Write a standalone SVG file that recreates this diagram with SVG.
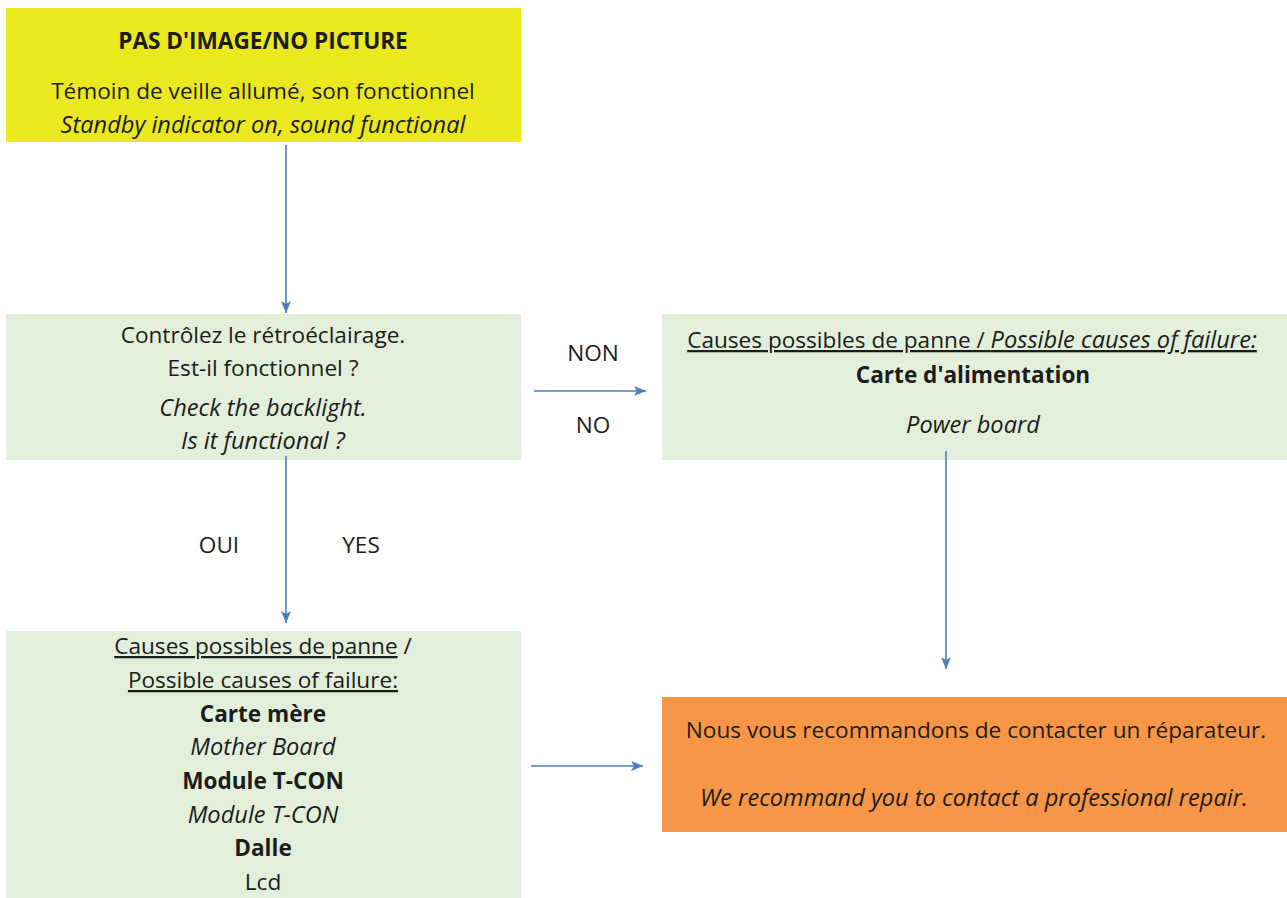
<svg xmlns="http://www.w3.org/2000/svg" width="1287" height="898" viewBox="0 0 1287 898">
<defs>
<style>
text{font-family:"Open Sans","Liberation Sans",sans-serif;font-size:22.6px;fill:#1c1c1c;text-anchor:middle}
.b{font-weight:bold}
.i{font-style:italic;font-size:23.6px}
.u{text-decoration:underline}
.conn{stroke:#4a7ebb;stroke-width:1.6;fill:none}
</style>
<marker id="ah" viewBox="0 0 12 10" refX="12" refY="5" markerWidth="12" markerHeight="10" markerUnits="userSpaceOnUse" orient="auto">
<path d="M0,0 L12,5 L0,10 L3,5 Z" fill="#4a7ebb"/>
</marker>
</defs>
<rect width="1287" height="898" fill="#ffffff"/>
<g id="n-start">
<rect x="6" y="8" width="515" height="134" fill="#ebe81e"/>
<text x="263" y="49" class="b">PAS D'IMAGE/NO PICTURE</text>
<text x="263" y="99">Témoin de veille allumé, son fonctionnel</text>
<text x="263" y="133" class="i">Standby indicator on, sound functional</text>
</g>
<g id="n-check">
<rect x="6" y="314" width="515" height="146" fill="#e2efda"/>
<text x="263" y="343">Contrôlez le rétroéclairage.</text>
<text x="263" y="376">Est-il fonctionnel ?</text>
<text x="263" y="416" class="i">Check the backlight.</text>
<text x="263" y="449" class="i">Is it functional ?</text>
</g>
<g id="n-power">
<rect x="662" y="314" width="625" height="146" fill="#e2efda"/>
<text x="972" y="348" class="u">Causes possibles de panne / <tspan class="i">Possible causes of failure:</tspan></text>
<text x="973" y="383" class="b">Carte d'alimentation</text>
<text x="973" y="433" class="i">Power board</text>
</g>
<g id="n-causes">
<rect x="6" y="631" width="515" height="267" fill="#e2efda"/>
<text x="263" y="654"><tspan class="u">Causes possibles de panne</tspan> /</text>
<text x="263" y="688" class="u">Possible causes of failure:</text>
<text x="263" y="722" class="b">Carte mère</text>
<text x="263" y="755" class="i">Mother Board</text>
<text x="263" y="789" class="b">Module T-CON</text>
<text x="263" y="823" class="i">Module T-CON</text>
<text x="263" y="856" class="b">Dalle</text>
<text x="263" y="890">Lcd</text>
</g>
<g id="n-repair">
<rect x="662" y="697" width="625" height="135" fill="#f79646"/>
<text x="976" y="738">Nous vous recommandons de contacter un réparateur.</text>
<text x="974" y="806" class="i">We recommand you to contact a professional repair.</text>
</g>
<g id="connectors">
<line class="conn" x1="286" y1="145" x2="286" y2="313" marker-end="url(#ah)"/>
<line class="conn" x1="534" y1="391" x2="646" y2="391" marker-end="url(#ah)"/>
<line class="conn" x1="286" y1="456" x2="286" y2="623" marker-end="url(#ah)"/>
<line class="conn" x1="946" y1="451" x2="946" y2="669" marker-end="url(#ah)"/>
<line class="conn" x1="531" y1="766" x2="643" y2="766" marker-end="url(#ah)"/>
<text x="593" y="361">NON</text>
<text x="593" y="433">NO</text>
<text x="219" y="553">OUI</text>
<text x="361" y="553">YES</text>
</g>
</svg>
